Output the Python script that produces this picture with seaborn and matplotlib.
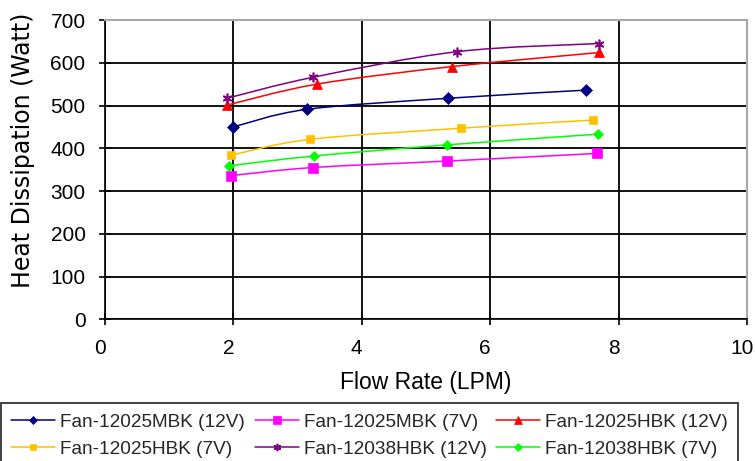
import matplotlib
matplotlib.use("Agg")
import matplotlib.pyplot as plt
from matplotlib.path import Path
from matplotlib.patches import PathPatch
from matplotlib.lines import Line2D
from matplotlib.transforms import ScaledTranslation
import seaborn as sns
import pandas as pd
import numpy as np

# ---- data ----
labels = ["Fan-12025MBK (12V)", "Fan-12025MBK (7V)", "Fan-12025HBK (12V)",
          "Fan-12025HBK (7V)", "Fan-12038HBK (12V)", "Fan-12038HBK (7V)"]
x_mbk12 = [2.00, 3.14, 5.35, 7.49]
y_mbk12 = [450, 491, 517, 536]
x_mbk7 = [1.96, 3.24, 5.32, 7.67]
y_mbk7 = [336, 355, 370, 388]
x_hbk12 = [1.90, 3.30, 5.40, 7.70]
y_hbk12 = [501, 550, 591, 624]
x_hbk7 = [1.97, 3.20, 5.55, 7.60]
y_hbk7 = [384, 421, 447, 466]
x_h38_12 = [1.90, 3.24, 5.49, 7.70]
y_h38_12 = [517, 566, 626, 645]
x_h38_7 = [1.93, 3.26, 5.33, 7.68]
y_h38_7 = [359, 382, 408, 433]
x_ticks = [0, 2, 4, 6, 8, 10]
y_ticks = [0, 100, 200, 300, 400, 500, 600, 700]

xs = [x_mbk12, x_mbk7, x_hbk12, x_hbk7, x_h38_12, x_h38_7]
ys = [y_mbk12, y_mbk7, y_hbk12, y_hbk7, y_h38_12, y_h38_7]

colors = ["#000080", "#FF00FF", "#FF0000", "#FFC000", "#800080", "#00FF00"]
markers = ["D", "s", "^", "s", (6, 2, 0), "D"]
msizes = [6, 7, 7.5, 5.5, 7, 5.5]
mew = [0.5, 0.5, 0.5, 0.5, 1.2, 0.5]

FONT = "Liberation Sans"
sns.set_theme(style="white")
plt.rcParams["font.family"] = [FONT, "DejaVu Sans"]

fig = plt.figure(figsize=(7.55, 4.61), dpi=100)
ax = fig.add_axes([105 / 755, 1 - 319.3 / 461, (747 - 105) / 755, (319.3 - 20) / 461])


def smooth_path(px, py):
    pts = np.column_stack([px, py]).astype(float)
    n = len(pts)
    verts = [pts[0]]
    codes = [Path.MOVETO]
    for i in range(n - 1):
        p0 = pts[i - 1] if i > 0 else pts[i]
        p1 = pts[i]
        p2 = pts[i + 1]
        p3 = pts[i + 2] if i + 2 < n else pts[i + 1]
        c1 = p1 + (p2 - p0) / 6.0
        c2 = p2 - (p3 - p1) / 6.0
        verts += [c1, c2, p2]
        codes += [Path.CURVE4] * 3
    return Path(verts, codes)


handles = []
for i in range(6):
    df = pd.DataFrame({"x": xs[i], "y": ys[i]})
    patch = PathPatch(smooth_path(df["x"], df["y"]), fill=False,
                      edgecolor=colors[i], lw=1.1, transform=ax.transData, zorder=3)
    ax.add_patch(patch)
    sns.lineplot(data=df, x="x", y="y", ax=ax, color=colors[i], marker=markers[i],
                 markersize=msizes[i], markeredgecolor=colors[i], markeredgewidth=mew[i],
                 linestyle="none", sort=False, zorder=4, legend=False)
    handles.append(Line2D([], [], color=colors[i], lw=1.1, marker=markers[i],
                          markersize=msizes[i] * 0.75, markeredgecolor=colors[i],
                          markeredgewidth=mew[i]))

ax.set_xlim(0, 10)
ax.set_ylim(0, 700)
ax.set_xticks(x_ticks)
ax.set_yticks(y_ticks)
ax.grid(True, color="black", lw=1.3)
ax.set_axisbelow(True)
for s in ["left", "bottom"]:
    ax.spines[s].set_color("black")
    ax.spines[s].set_linewidth(1.2)
for s in ["top", "right"]:
    ax.spines[s].set_color("#a8a8a8")
    ax.spines[s].set_linewidth(1.5)
ax.tick_params(axis="both", direction="inout", length=8, width=1.2, color="black",
               labelsize=15, labelcolor="black", left=True, bottom=True)
ax.tick_params(axis="x", pad=10)
ax.tick_params(axis="y", pad=10)
for lab in ax.get_xticklabels():
    lab.set_transform(lab.get_transform() + ScaledTranslation(-5 / 100, 0, fig.dpi_scale_trans))

ax.set_xlabel("Flow Rate (LPM)", fontsize=16.5, color="black", va="center")
ax.xaxis.set_label_coords(0.5, (319.3 - 382) / 299.3)
ax.set_ylabel("Heat Dissipation (Watt)", fontsize=17, color="black",
              family=["DejaVu Sans"], va="center")
ax.yaxis.set_label_coords((23 - 105) / 642, (319.3 - 150) / 299.3)

order = [0, 3, 1, 4, 2, 5]
leg = fig.legend([handles[k] for k in order], [labels[k] for k in order], ncol=3,
                 loc="upper left", bbox_to_anchor=(1 / 755, 1 - 403 / 461), fontsize=13.7,
                 frameon=True, fancybox=False, edgecolor="black",
                 handlelength=2.3, handletextpad=0.26, columnspacing=0.52,
                 labelspacing=0.5, borderpad=0.55, borderaxespad=0)
leg.get_frame().set_linewidth(1.3)

fig.savefig("out.png", dpi=100)
